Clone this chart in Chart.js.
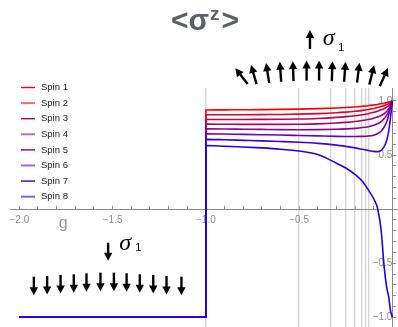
<!DOCTYPE html>
<html>
<head>
<meta charset="utf-8">
<script src="https://cdn.jsdelivr.net/npm/chart.js@4.4.0/dist/chart.umd.min.js"></script>
<style>
  html, body { margin: 0; padding: 0; background: #fff; }
</style>
</head>
<body>
<canvas id="sigma_chart" width="398" height="327"></canvas>
<script>
// data
const spinLabels = ['Spin 1', 'Spin 2', 'Spin 3', 'Spin 4', 'Spin 5', 'Spin 6', 'Spin 7', 'Spin 8'];

// g < -1 : every spin sits at -1
const lowG = [-2, -1];
const lowValues = [-1, -1];

// g >= -1
const highG = [-1, -0.9, -0.8, -0.7, -0.6, -0.5, -0.4, -0.3, -0.25, -0.2, -0.16, -0.13, -0.1, -0.08, -0.06, -0.045, -0.03, -0.02, -0.01, 0];
const spin1 = [0.917, 0.918, 0.919, 0.920, 0.922, 0.925, 0.929, 0.935, 0.939, 0.945, 0.951, 0.956, 0.963, 0.968, 0.974, 0.979, 0.985, 0.990, 0.995, 1.0];
const spin2 = [0.872, 0.872, 0.873, 0.874, 0.875, 0.878, 0.883, 0.891, 0.897, 0.905, 0.913, 0.921, 0.931, 0.939, 0.949, 0.957, 0.967, 0.976, 0.988, 1.0];
const spin3 = [0.829, 0.829, 0.829, 0.830, 0.831, 0.833, 0.838, 0.848, 0.855, 0.864, 0.873, 0.882, 0.895, 0.905, 0.918, 0.929, 0.943, 0.957, 0.977, 1.0];
const spin4 = [0.786, 0.785, 0.784, 0.784, 0.784, 0.785, 0.788, 0.796, 0.802, 0.810, 0.819, 0.828, 0.840, 0.851, 0.866, 0.882, 0.905, 0.928, 0.963, 1.0];
const spin5 = [0.742, 0.741, 0.739, 0.737, 0.735, 0.734, 0.735, 0.739, 0.742, 0.747, 0.754, 0.762, 0.775, 0.789, 0.810, 0.835, 0.870, 0.905, 0.952, 1.0];
const spin6 = [0.697, 0.694, 0.691, 0.688, 0.685, 0.681, 0.677, 0.673, 0.672, 0.672, 0.673, 0.676, 0.684, 0.697, 0.722, 0.757, 0.810, 0.870, 0.935, 1.0];
const spin7 = [0.645, 0.641, 0.636, 0.631, 0.625, 0.618, 0.608, 0.592, 0.580, 0.566, 0.553, 0.543, 0.534, 0.532, 0.543, 0.575, 0.640, 0.720, 0.850, 1.0];
const spin8 = [0.588, 0.582, 0.575, 0.566, 0.554, 0.537, 0.505, 0.425, 0.380, 0.320, 0.255, 0.180, 0.095, 0.010, -0.200, -0.520, -0.730, -0.810, -0.940, -1.0];
const spinValues = [spin1, spin2, spin3, spin4, spin5, spin6, spin7, spin8];

// axis ticks
const xTicks = [-2, -1.9, -1.8, -1.7, -1.6, -1.5, -1.4, -1.3, -1.2, -1.1, -1, -0.9, -0.8, -0.7, -0.6, -0.5, -0.4, -0.3, -0.2, -0.1];
const xLabelled = [-2, -1.5, -1, -0.5];
const yTicks = [-1, -0.9, -0.8, -0.7, -0.6, -0.5, -0.4, -0.3, -0.2, -0.1, 0.1, 0.2, 0.3, 0.4, 0.5, 0.6, 0.7, 0.8, 0.9, 1];
const yLabelled = [-1, -0.5, 0.5, 1];
// light vertical lines
const markerG = [-1, -0.5, -0.333, -0.25, -0.2, -0.167, -0.143, -0.125];

// spin arrows drawn over the plot
const upArrowG = [-0.809, -0.743, -0.669, -0.600, -0.532, -0.460, -0.393, -0.323, -0.255, -0.183, -0.111, -0.046];
const upArrowV = [1.229, 1.244, 1.259, 1.270, 1.276, 1.281, 1.281, 1.276, 1.270, 1.261, 1.241, 1.220];
const upArrowTilt = [-38, -16, -9, -4, -2, 0, 0, 2, 4, 7, 14, 24];
const downArrowG = [-1.922, -1.851, -1.779, -1.708, -1.640, -1.565, -1.493, -1.425, -1.354, -1.282, -1.211, -1.131];
const downArrowV = [-0.710, -0.704, -0.694, -0.688, -0.679, -0.673, -0.673, -0.679, -0.688, -0.694, -0.704, -0.710];

const lineColors = ['#ff0000', '#e2002c', '#c50048', '#a8006a', '#8e008e', '#6a00b0', '#4400cc', '#2000ee'];
const legendColors = ['#ff0000', '#ec6f7e', '#c4003e', '#c46aa6', '#8c008c', '#a06ad8', '#3400c4', '#6c6ce8'];

function fmt(v) {
    return v.toFixed(1).replace('-', '\u2212');
}

function noPadding(s) {
    s.paddingLeft = 0;
    s.paddingRight = 0;
    s.paddingTop = 0;
    s.paddingBottom = 0;
}

function drawArrow(ctx, cx, cy, len, tilt, dir) {
    // dir -1 points up, 1 points down
    ctx.save();
    ctx.translate(cx, cy);
    ctx.rotate(tilt * Math.PI / 180);
    const half = len / 2, head = 8, hw = 4.2;
    ctx.beginPath();
    ctx.moveTo(0, -dir * half);
    ctx.lineTo(0, dir * (half - head + 1));
    ctx.lineWidth = 2.4;
    ctx.strokeStyle = '#000';
    ctx.stroke();
    ctx.beginPath();
    ctx.moveTo(0, dir * half);
    ctx.lineTo(-hw, dir * (half - head));
    ctx.lineTo(hw, dir * (half - head));
    ctx.closePath();
    ctx.fillStyle = '#000';
    ctx.fill();
    ctx.restore();
}

const decorPlugin = {
    id: 'decor',
    afterDraw(chart) {
        const ctx = chart.ctx;
        const px = g => chart.scales.x.getPixelForValue(g);
        const py = v => chart.scales.y.getPixelForValue(v);
        ctx.save();

        // title <σ^z>
        ctx.fillStyle = '#5a5e66';
        ctx.textBaseline = 'alphabetic';
        ctx.textAlign = 'left';
        const a = '<\u03c3', b = '>';
        ctx.font = 'bold 19px "Liberation Sans"';
        const wz = ctx.measureText('z').width;
        ctx.font = 'bold 30px "Liberation Sans"';
        const wa = ctx.measureText(a).width, wb = ctx.measureText(b).width;
        const tx = 205 - (wa + wz + wb + 3) / 2;
        ctx.fillText(a, tx, 30);
        ctx.font = 'bold 19px "Liberation Sans"';
        ctx.fillText('z', tx + wa + 1, 20);
        ctx.font = 'bold 30px "Liberation Sans"';
        ctx.fillText(b, tx + wa + wz + 3, 30);

        // legend
        ctx.font = '9.5px "Liberation Sans"';
        ctx.textBaseline = 'middle';
        spinLabels.forEach((label, i) => {
            const ly = 87.5 + i * 15.6;
            ctx.beginPath();
            ctx.moveTo(21, ly);
            ctx.lineTo(35, ly);
            ctx.lineWidth = i % 2 ? 2 : 1.4;
            ctx.strokeStyle = legendColors[i];
            ctx.stroke();
            ctx.fillStyle = '#222';
            ctx.fillText(label, 41, ly);
        });

        // axis name
        ctx.fillStyle = '#9a9a9a';
        ctx.textBaseline = 'alphabetic';
        ctx.font = '16px "Liberation Sans"';
        ctx.fillText('g', px(-1.788), py(-0.176));

        // spin arrows
        upArrowG.forEach((g, i) => drawArrow(ctx, px(g), py(upArrowV[i]), 20, upArrowTilt[i], -1));
        downArrowG.forEach((g, i) => drawArrow(ctx, px(g), py(downArrowV[i]), 18.5, 0, 1));

        // sigma_1 labels
        drawArrow(ctx, px(-0.442), py(1.569), 19, 0, -1);
        drawArrow(ctx, px(-1.524), py(-0.394), 18, 0, 1);
        ctx.fillStyle = '#000';
        ctx.font = 'italic 24px "Liberation Serif"';
        ctx.fillText('\u03c3', px(-0.374), py(1.519));
        ctx.fillText('\u03c3', px(-1.465), py(-0.380));
        ctx.font = '11px "Liberation Sans"';
        ctx.fillText('1', px(-0.29), py(1.465));
        ctx.fillText('1', px(-1.378), py(-0.390));
        ctx.restore();
    }
};

Chart.defaults.font.family = '"Liberation Sans", Arial, sans-serif';

const datasets = spinLabels.map((label, i) => ({
    label: label,
    data: lowG.map((g, j) => ({x: g, y: lowValues[j]}))
        .concat(highG.map((g, j) => ({x: g, y: spinValues[i][j]}))),
    borderColor: lineColors[i],
    backgroundColor: lineColors[i],
    borderWidth: 1.6,
    pointRadius: 0,
    cubicInterpolationMode: 'monotone',
    xAxisID: 'x',
    yAxisID: 'y',
    order: spinLabels.length - i
}));

const ctx = document.getElementById('sigma_chart').getContext('2d');
const sigmaChart = new Chart(ctx, {
    type: 'line',
    data: {datasets: datasets},
    plugins: [decorPlugin],
    options: {
        responsive: false,
        animation: false,
        layout: {padding: {top: 88, left: 10, right: 0, bottom: 0}},
        plugins: {
            legend: {display: false},
            title: {display: false},
            tooltip: {enabled: false}
        },
        scales: {
            x: {
                type: 'linear',
                min: -2.05,
                max: 0.03,
                position: {y: 0},
                afterBuildTicks: s => { s.ticks = xTicks.map(v => ({value: v})); },
                afterFit: s => { s.height = 0; noPadding(s); },
                border: {color: '#8a8a8a', width: 1},
                grid: {drawOnChartArea: false, tickLength: -4, color: '#8a8a8a'},
                ticks: {
                    autoSkip: false,
                    maxRotation: 0,
                    padding: 9,
                    color: '#8c8c8c',
                    font: {size: 10},
                    callback: v => xLabelled.includes(v) ? fmt(v) : ''
                }
            },
            markers: {
                type: 'linear',
                axis: 'x',
                min: -2.05,
                max: 0.03,
                position: 'bottom',
                afterBuildTicks: s => { s.ticks = markerG.map(v => ({value: v})); },
                afterFit: s => { s.height = 0; noPadding(s); },
                border: {display: false},
                grid: {drawTicks: false, color: '#d6d6d6', lineWidth: 1.4},
                ticks: {display: false}
            },
            y: {
                type: 'linear',
                min: -1.09,
                max: 1.12,
                position: {x: 0},
                afterBuildTicks: s => { s.ticks = yTicks.map(v => ({value: v})); },
                afterFit: s => { s.width = 0; noPadding(s); },
                border: {color: '#8a8a8a', width: 1},
                grid: {drawOnChartArea: false, tickLength: -4, color: '#8a8a8a'},
                ticks: {
                    autoSkip: false,
                    padding: 9,
                    color: '#8c8c8c',
                    font: {size: 10},
                    callback: v => yLabelled.includes(v) ? fmt(v) : ''
                }
            }
        }
    }
});
</script>
</body>
</html>
